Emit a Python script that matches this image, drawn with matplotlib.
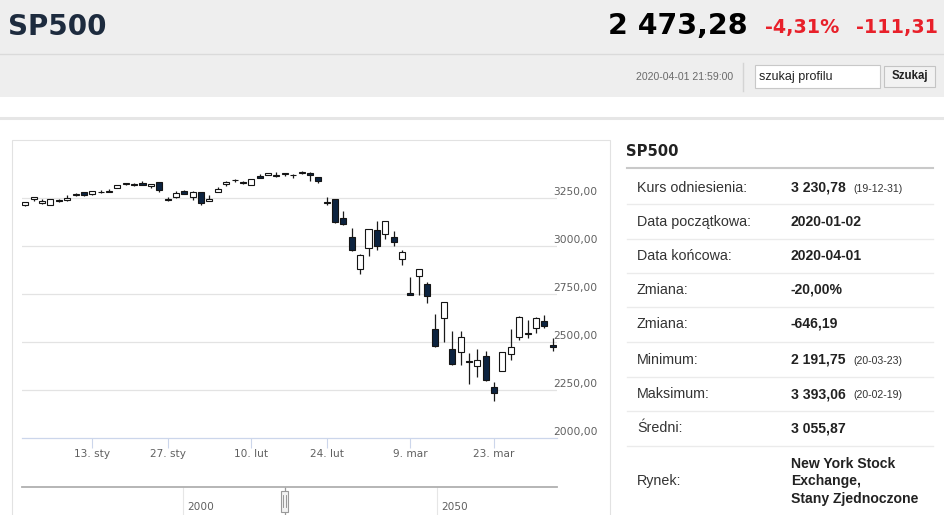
import matplotlib
matplotlib.use('Agg')
import matplotlib.pyplot as plt
from matplotlib.patches import Rectangle
from matplotlib.lines import Line2D
from matplotlib import transforms
import numpy as np

W, H = 945, 515

# --- dane notowań SP500 (dzienne OHLC) ---
dates = ['2019-12-31', '2020-01-02', '2020-01-03', '2020-01-06', '2020-01-07', '2020-01-08',
         '2020-01-09', '2020-01-10', '2020-01-13', '2020-01-14', '2020-01-15', '2020-01-16',
         '2020-01-17', '2020-01-21', '2020-01-22', '2020-01-23', '2020-01-24', '2020-01-27',
         '2020-01-28', '2020-01-29', '2020-01-30', '2020-01-31', '2020-02-03', '2020-02-04',
         '2020-02-05', '2020-02-06', '2020-02-07', '2020-02-10', '2020-02-11', '2020-02-12',
         '2020-02-13', '2020-02-14', '2020-02-18', '2020-02-19', '2020-02-20', '2020-02-21',
         '2020-02-24', '2020-02-25', '2020-02-26', '2020-02-27', '2020-02-28', '2020-03-02',
         '2020-03-03', '2020-03-04', '2020-03-05', '2020-03-06', '2020-03-09', '2020-03-10',
         '2020-03-11', '2020-03-12', '2020-03-13', '2020-03-16', '2020-03-17', '2020-03-18',
         '2020-03-19', '2020-03-20', '2020-03-23', '2020-03-24', '2020-03-25', '2020-03-26',
         '2020-03-27', '2020-03-30', '2020-03-31', '2020-04-01']
opens = [3215.2, 3244.7, 3226.4, 3217.6, 3241.9, 3238.6, 3266.0, 3281.8, 3271.1, 3285.4,
         3282.3, 3303.0, 3323.7, 3321.0, 3330.0, 3315.8, 3333.1, 3247.2, 3255.4, 3289.5,
         3256.5, 3282.3, 3235.7, 3280.6, 3324.9, 3344.9, 3335.5, 3318.3, 3365.9, 3370.5,
         3365.9, 3378.1, 3369.0, 3380.4, 3380.5, 3360.5, 3232, 3244, 3146, 3050,
         2880, 2990, 3083, 3064, 3048, 2934, 2758, 2845, 2804, 2568,
         2625, 2463, 2451, 2402, 2375, 2431, 2269, 2352, 2439, 2526,
         2550, 2573, 2611, 2486]
highs = [3231.7, 3258.1, 3246.2, 3246.8, 3244.9, 3267.1, 3275.6, 3283.0, 3288.1, 3294.3,
         3298.7, 3317.1, 3329.9, 3329.8, 3337.8, 3326.9, 3333.2, 3258.9, 3285.8, 3293.5,
         3285.9, 3282.3, 3268.4, 3306.9, 3337.6, 3348.0, 3341.4, 3352.3, 3375.6, 3381.5,
         3385.1, 3380.7, 3375.0, 3393.1, 3389.2, 3360.8, 3256, 3247, 3183, 3096,
         2959, 3091, 3134, 3131, 3082, 2980, 2838, 2883, 2815, 2646,
         2711, 2560, 2557, 2446, 2466, 2453, 2293, 2449, 2570, 2637,
         2616, 2632, 2641, 2520]
lows = [3212.0, 3235.5, 3222.3, 3214.6, 3232.4, 3236.7, 3263.7, 3260.9, 3268.4, 3277.2,
        3280.7, 3302.8, 3318.9, 3316.6, 3320.0, 3301.9, 3281.5, 3234.5, 3253.2, 3271.9,
        3242.8, 3214.7, 3235.7, 3280.6, 3313.8, 3334.4, 3322.1, 3317.8, 3355.6, 3369.7,
        3360.5, 3366.2, 3355.6, 3378.8, 3341.0, 3328.5, 3215, 3119, 3109, 2977,
        2856, 2948, 2983, 3040, 3003, 2902, 2744, 2745, 2707, 2478,
        2500, 2381, 2380, 2281, 2320, 2296, 2192, 2350, 2410, 2512,
        2522, 2548, 2575, 2455]
closes = [3230.8, 3257.9, 3234.9, 3246.3, 3237.2, 3253.1, 3274.7, 3265.4, 3288.1, 3283.2,
          3289.3, 3316.8, 3329.6, 3320.8, 3321.8, 3325.5, 3295.5, 3243.6, 3276.2, 3273.4,
          3283.7, 3225.5, 3248.9, 3297.6, 3334.7, 3345.8, 3327.7, 3352.1, 3357.8, 3379.5,
          3373.9, 3380.2, 3370.3, 3386.2, 3373.2, 3337.8, 3226, 3128, 3116, 2979,
          2954, 3090, 3003, 3130, 3024, 2972, 2747, 2882, 2741, 2481,
          2711, 2386, 2529, 2398, 2409, 2305, 2237, 2447, 2476, 2630,
          2541, 2627, 2585, 2473]

y_ticks = [2000, 2250, 2500, 2750, 3000, 3250]
x_tick_dates = ['2020-01-13', '2020-01-27', '2020-02-10', '2020-02-24', '2020-03-09', '2020-03-23']
x_tick_labels = ['13. sty', '27. sty', '10. lut', '24. lut', '9. mar', '23. mar']
nav_years = [2000, 2050]

info_labels = ['Kurs odniesienia:', 'Data początkowa:', 'Data końcowa:', 'Zmiana:', 'Zmiana:',
               'Minimum:', 'Maksimum:', 'Średni:', 'Rynek:']
info_values = ['3 230,78', '2020-01-02', '2020-04-01', '-20,00%', '-646,19',
               '2 191,75', '3 393,06', '3 055,87', 'New York Stock\nExchange,\nStany Zjednoczone']
info_notes = ['(19-12-31)', '', '', '', '', '(20-03-23)', '(20-02-19)', '', '']


def fx(x):
    return x / W


def fy(y):
    return 1 - y / H


def box(fig, x0, y0, x1, y1, **kw):
    fig.add_artist(Rectangle((fx(x0), fy(y1)), (x1 - x0) / W, (y1 - y0) / H,
                             transform=fig.transFigure, **kw))


def hline(fig, x0, x1, y, **kw):
    fig.add_artist(Line2D([fx(x0), fx(x1)], [fy(y), fy(y)], transform=fig.transFigure, **kw))


fig = plt.figure(figsize=(W / 100, H / 100), dpi=100)
fig.patch.set_facecolor('white')

# --- nagłówek strony ---
box(fig, 0, 0, W, 97, facecolor='#eeeeee', edgecolor='none')
hline(fig, 0, W, 53.5, color='#dadada', lw=1.0)
fig.text(fx(8), fy(27), 'SP500', fontsize=20, fontweight='bold', color='#1d2b3e',
         family='DejaVu Sans', va='center', ha='left')
fig.text(fx(748), fy(26), '2 473,28', fontsize=20.5, fontweight='bold', color='black',
         family='DejaVu Sans', va='center', ha='right')
fig.text(fx(765), fy(27), '-4,31%', fontsize=13.8, fontweight='bold', color='#e8202a',
         family='DejaVu Sans', va='center', ha='left')
fig.text(fx(938), fy(27), '-111,31', fontsize=13.8, fontweight='bold', color='#e8202a',
         family='DejaVu Sans', va='center', ha='right')
fig.text(fx(733), fy(76.5), '2020-04-01 21:59:00', fontsize=7.6, color='#6a6a6a',
         family='Liberation Sans', va='center', ha='right')
fig.add_artist(Line2D([fx(743), fx(743)], [fy(63), fy(91)], transform=fig.transFigure,
                      color='#d4d4d4', lw=1))
box(fig, 755.5, 65.5, 880.5, 87.5, facecolor='white', edgecolor='#c8c8c8', lw=0.8)
fig.text(fx(759), fy(76.5), 'szukaj profilu', fontsize=9, color='#222222',
         family='Liberation Sans', va='center', ha='left')
box(fig, 884.5, 65.5, 935.5, 86.5, facecolor='#f2f2f2', edgecolor='#c4c4c4', lw=0.8)
fig.text(fx(910), fy(76), 'Szukaj', fontsize=8.3, fontweight='bold', color='#222222',
         family='Liberation Sans', va='center', ha='center')

hline(fig, 0, W, 118, color='#e6e6e6', lw=2.2)

# ramka wykresu
box(fig, 12.5, 139.5, 610.5, 530, facecolor='none', edgecolor='#e2e2e2', lw=0.8)

# --- wykres świecowy ---
px_per_day = 8.371
x_left, x_right = 22, 557
y_bottom, y_top = 438.3, 150.3
ax = fig.add_axes([fx(x_left), fy(y_bottom), (x_right - x_left) / W, (y_bottom - y_top) / H])
ax.set_xlim((x_left - 25.3) / px_per_day, (x_right - 25.3) / px_per_day)
ax.set_ylim(2000, 3500)
ax.patch.set_alpha(0)

idx = np.arange(len(dates))
o = np.array(opens)
c = np.array(closes)
up = c >= o
fills = np.where(up, 'white', '#0c2340')
body_low = np.minimum(o, c)
body_h = np.maximum(np.abs(c - o), 1.5)

ax.vlines(idx, lows, highs, color='#1a1a1a', lw=0.9, zorder=2)
ax.bar(idx, body_h, bottom=body_low, width=0.72, color=fills, edgecolor='#141414',
       linewidth=0.8, zorder=3)

for v in y_ticks[1:]:
    ax.axhline(v, color='#e3e3e3', lw=0.9, zorder=0)

lab_tr = transforms.offset_copy(ax.get_yaxis_transform(), fig=fig, x=-4, y=1, units='dots')
for v in y_ticks:
    ax.text(1.0, v, f'{v},00', transform=lab_tr, fontsize=7.7, color='#606060',
            family='DejaVu Sans', ha='left', va='bottom', clip_on=False)

ax.set_yticks([])
tick_pos = [dates.index(d) for d in x_tick_dates]
ax.set_xticks(tick_pos)
ax.set_xticklabels(x_tick_labels, fontsize=7.6, color='#606060', family='DejaVu Sans')
ax.tick_params(axis='x', length=7, width=0.8, color='#ccd6eb', pad=0.5)
for side in ['top', 'right', 'left']:
    ax.spines[side].set_visible(False)
ax.spines['bottom'].set_color('#ccd6eb')
ax.spines['bottom'].set_linewidth(0.9)

# --- nawigator ---
nav = fig.add_axes([fx(x_left), 0, (x_right - x_left) / W, (H - 487) / H])
yr_px = 5.08
nav.set_xlim(2000 - (183 - x_left) / yr_px, 2000 + (x_right - 183) / yr_px)
nav.set_ylim(0, 1)
nav.patch.set_alpha(0)
nav.set_xticks([])
nav.set_yticks([])
for side in ['bottom', 'right', 'left']:
    nav.spines[side].set_visible(False)
nav.spines['top'].set_color('#b0b0b0')
nav.spines['top'].set_linewidth(1.3)
nav_tr = transforms.offset_copy(nav.get_xaxis_transform(), fig=fig, x=4, y=0, units='dots')
for yr in nav_years:
    nav.axvline(yr, color='#e6e6e6', lw=0.8)
    nav.text(yr, 0.3, str(yr), transform=nav_tr, fontsize=7.6, color='#606060',
             family='DejaVu Sans', ha='left', va='center')

# uchwyt nawigatora na początku zakresu (31.12.2019)
start_year = 2020 - 1 / 365.0
nav.axvline(start_year, color='#999999', lw=0.9)
hw = 3.5 / yr_px
nav.add_patch(Rectangle((start_year - hw, 0.12), 2 * hw, 0.75, facecolor='#f2f2f2',
                        edgecolor='#999999', lw=0.8, zorder=3))
for dx in (-1.2 / yr_px, 1.2 / yr_px):
    nav.plot([start_year + dx, start_year + dx], [0.3, 0.7], color='#888888', lw=0.6, zorder=4)

# --- panel informacyjny ---
fig.text(fx(626), fy(152), 'SP500', fontsize=10.6, fontweight='bold', color='#222222',
         family='DejaVu Sans', va='center', ha='left')
hline(fig, 627, 933, 168.5, color='#c9c9c9', lw=1.5)

row_y = [188, 222, 256, 290, 324, 359.5, 394.5, 428.5, 481]
sep_y = [204, 238.5, 272.5, 306.5, 341.5, 376.5, 411, 446]
for y in sep_y:
    hline(fig, 627, 933, y, color='#ebebeb', lw=1)

for lab, val, note, y in zip(info_labels, info_values, info_notes, row_y):
    fig.text(fx(637), fy(y), lab, fontsize=10.3, color='#333333', family='Liberation Sans',
             va='center', ha='left')
    lines = val.split('\n')
    for k, line in enumerate(lines):
        yy = y + (k - (len(lines) - 1) / 2) * 17.5
        fig.text(fx(791), fy(yy), line, fontsize=10.1, fontweight='bold', color='#222222',
                 family='Liberation Sans', va='center', ha='left')
    if note:
        fig.text(fx(853), fy(y + 1), note, fontsize=7.6, color='#333333',
                 family='Liberation Sans', va='center', ha='left')

fig.savefig('out.png', dpi=100)
